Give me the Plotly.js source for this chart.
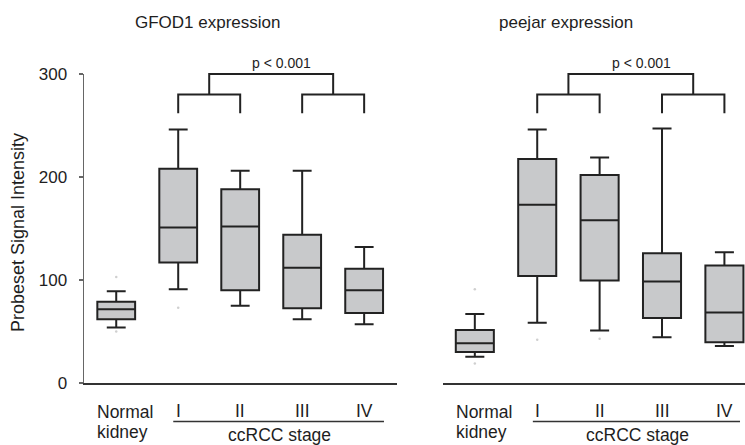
<!DOCTYPE html>
<html>
<head>
<meta charset="utf-8">
<script src="https://cdn.plot.ly/plotly-3.0.1.min.js"></script>
<style>html,body{margin:0;padding:0;background:#fff;}#chart{width:745px;height:445px;}</style>
</head>
<body>
<div id="chart"></div>
<script>
// ---- data ----
const categories = ['Normal kidney', 'I', 'II', 'III', 'IV'];
const stageGroupLabel = 'ccRCC stage';
const panelTitles = ['GFOD1 expression', 'peejar expression'];
const yTitle = 'Probeset Signal Intensity';
const yTickVals = [0, 100, 200, 300];
const pLabel = 'p < 0.001';

// GFOD1
const gfodLow  = [54, 91, 75, 62, 57];
const gfodQ1   = [62, 117, 90, 72.5, 68];
const gfodMed  = [71.5, 151, 152, 112, 90];
const gfodQ3   = [79, 208, 188, 144, 111];
const gfodHigh = [89, 246, 206, 206, 132];
const gfodFaintX = [0, 0, 1];
const gfodFaintY = [103, 50, 73];

// peejar
const peeLow  = [25.5, 58.5, 51, 44.5, 36];
const peeQ1   = [30, 104, 99.5, 63, 39.5];
const peeMed  = [38.5, 173, 158, 98.5, 68.5];
const peeQ3   = [51.5, 217.5, 202, 126, 114];
const peeHigh = [67, 246, 219, 247, 127];
const peeFaintX = [0, 0, 1, 2];
const peeFaintY = [91, 19, 42, 43];

// significance brackets: pairs compared, bracket heights
const pairs = [[1, 2], [3, 4]];
const legLow = 262, pairLevel = 280, topLevel = 300, pTextLevel = 311;

// ---- layout geometry ----
const W = 745, H = 445;
const px = v => v / W, py = v => (H - v) / H;
const yDom = [py(383), py(74)];
const xDom1 = [px(84), px(397)], xRange1 = [-0.52, 4.53];
const xDom2 = [px(443), 1], xRange2 = [-0.51, 4.33];
const yRange = [0, 300];
// taller invisible axis for brackets with the same scale as the data axis
const bTop = 0.98;
const bRange = [0, yRange[1] * (bTop - yDom[0]) / (yDom[1] - yDom[0])];

const font = 'Liberation Sans, Arial, sans-serif';
const ink = '#1e1e1e';
const pos = categories.map((c, i) => i);

function boxTrace(q1, med, q3, lo, hi, xa, ya) {
  return {
    type: 'box', x: pos, q1: q1, median: med, q3: q3,
    lowerfence: lo, upperfence: hi,
    width: 0.61, whiskerwidth: 0.5, boxpoints: false,
    fillcolor: '#c8c9cb', line: {color: '#222', width: 2},
    xaxis: xa, yaxis: ya, hoverinfo: 'skip', showlegend: false
  };
}
function faintTrace(xs, ys, xa, ya) {
  return {type: 'scatter', mode: 'markers', x: xs, y: ys, xaxis: xa, yaxis: ya,
    marker: {size: 2.5, color: '#cfcfcf'}, hoverinfo: 'skip', showlegend: false};
}
function bracketTrace(xa, ya) {
  const xs = [], ys = [];
  const mids = [];
  pairs.forEach(p => {
    xs.push(p[0], p[0], p[1], p[1], null);
    ys.push(legLow, pairLevel, pairLevel, legLow, null);
    mids.push((p[0] + p[1]) / 2);
  });
  xs.push(mids[0], mids[0], mids[1], mids[1]);
  ys.push(pairLevel, topLevel, topLevel, pairLevel);
  return {type: 'scatter', mode: 'lines', x: xs, y: ys, xaxis: xa, yaxis: ya,
    line: {color: '#222', width: 2}, hoverinfo: 'skip', showlegend: false};
}

const data = [
  boxTrace(gfodQ1, gfodMed, gfodQ3, gfodLow, gfodHigh, 'x', 'y'),
  faintTrace(gfodFaintX, gfodFaintY, 'x', 'y'),
  boxTrace(peeQ1, peeMed, peeQ3, peeLow, peeHigh, 'x2', 'y2'),
  faintTrace(peeFaintX, peeFaintY, 'x2', 'y2'),
  bracketTrace('x3', 'y3'),
  bracketTrace('x4', 'y4')
];

const annotations = [];
const shapes = [];
const panels = [
  {xref: 'x', bref: 'x3', yref: 'y3', titleX: px(207.5), pX: 2.67, stageX: 2.63, line: [0.92, 4.32]},
  {xref: 'x2', bref: 'x4', yref: 'y4', titleX: px(566), pX: 2.67, stageX: 2.61, line: [0.93, 4.25]}
];
panels.forEach((p, k) => {
  annotations.push({text: panelTitles[k], xref: 'paper', yref: 'paper', x: p.titleX, y: py(23),
    xanchor: 'center', yanchor: 'middle', showarrow: false, font: {family: font, size: 17, color: ink}});
  annotations.push({text: pLabel, xref: p.bref, yref: p.yref, x: p.pX, y: pTextLevel,
    xanchor: 'center', yanchor: 'middle', showarrow: false, font: {family: font, size: 14, color: ink}});
  // category labels
  const normalLines = categories[0].split(' ');
  normalLines.forEach((t, j) => {
    annotations.push({text: t, xref: p.xref, yref: 'paper', x: -0.34, y: py(412 + 20 * j),
      xanchor: 'left', yanchor: 'middle', showarrow: false, font: {family: font, size: 17.5, color: ink}});
  });
  categories.slice(1).forEach((t, j) => {
    annotations.push({text: t, xref: p.xref, yref: 'paper', x: j + 1, y: py(411),
      xanchor: 'center', yanchor: 'middle', showarrow: false, font: {family: font, size: 17.5, color: ink}});
  });
  annotations.push({text: stageGroupLabel, xref: p.xref, yref: 'paper', x: p.stageX, y: py(435),
    xanchor: 'center', yanchor: 'middle', showarrow: false, font: {family: font, size: 17.5, color: ink}});
  shapes.push({type: 'line', xref: p.xref, yref: 'paper', x0: p.line[0], x1: p.line[1],
    y0: py(421.5), y1: py(421.5), line: {color: '#333', width: 1.5}});
});
annotations.push({text: yTitle, xref: 'paper', yref: 'paper', x: px(18), y: py(233), textangle: -90,
  xanchor: 'center', yanchor: 'middle', showarrow: false, font: {family: font, size: 18, color: ink}});

const hiddenX = (dom, rng, anchor) => ({domain: dom, range: rng, anchor: anchor, visible: false, fixedrange: true});
const layout = {
  width: W, height: H,
  margin: {l: 0, r: 0, t: 0, b: 0},
  paper_bgcolor: '#fff', plot_bgcolor: 'rgba(0,0,0,0)',
  font: {family: font, color: ink},
  showlegend: false,
  xaxis: {domain: xDom1, range: xRange1, anchor: 'y', showline: true, linecolor: '#333', linewidth: 2,
    showgrid: false, zeroline: false, ticks: '', showticklabels: false},
  yaxis: {domain: yDom, range: yRange, anchor: 'x', showline: true, linecolor: '#666', linewidth: 1.5,
    showgrid: false, zeroline: false, ticks: 'outside', ticklen: 4, tickwidth: 1.5, tickcolor: '#666',
    tickvals: yTickVals, tickfont: {family: font, size: 17, color: ink}, ticklabelstandoff: 8},
  xaxis2: {domain: xDom2, range: xRange2, anchor: 'y2', showline: true, linecolor: '#333', linewidth: 2,
    showgrid: false, zeroline: false, ticks: '', showticklabels: false},
  yaxis2: {domain: yDom, range: yRange, anchor: 'x2', showline: false, showgrid: false, zeroline: false,
    ticks: '', showticklabels: false},
  xaxis3: hiddenX(xDom1, xRange1, 'y3'),
  yaxis3: {domain: [yDom[0], bTop], range: bRange, anchor: 'x3', visible: false, fixedrange: true},
  xaxis4: hiddenX(xDom2, xRange2, 'y4'),
  yaxis4: {domain: [yDom[0], bTop], range: bRange, anchor: 'x4', visible: false, fixedrange: true},
  annotations: annotations,
  shapes: shapes
};

Plotly.newPlot('chart', data, layout, {staticPlot: true, displayModeBar: false});
</script>
</body>
</html>
